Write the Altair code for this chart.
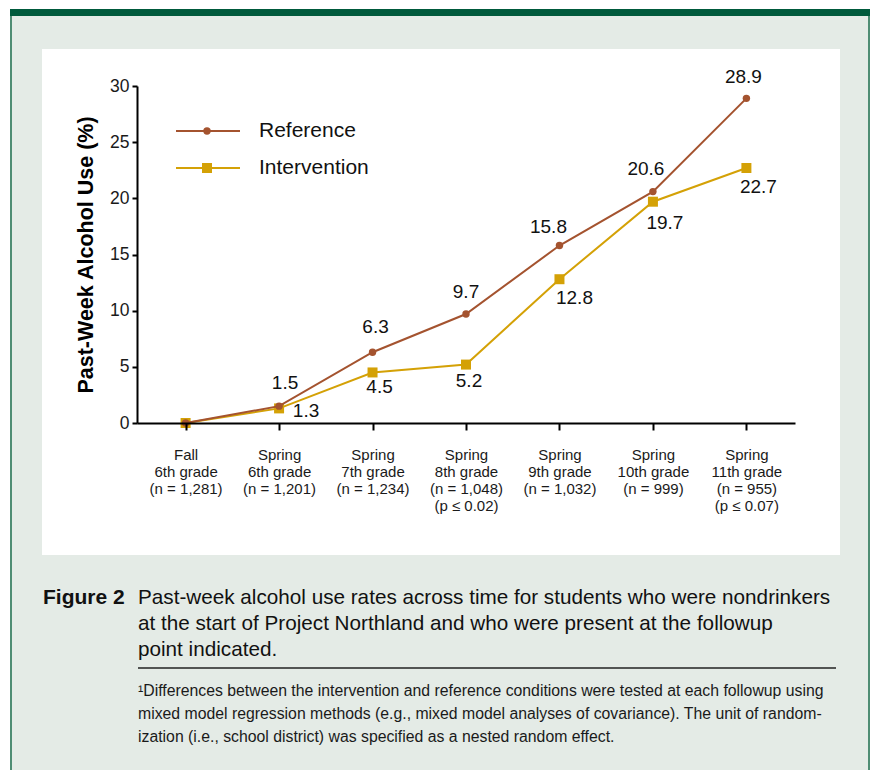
import altair as alt
import pandas as pd

# ---------------- data ----------------
categories = [
    "Fall|6th grade|(n = 1,281)",
    "Spring|6th grade|(n = 1,201)",
    "Spring|7th grade|(n = 1,234)",
    "Spring|8th grade|(n = 1,048)|(p ≤ 0.02)",
    "Spring|9th grade|(n = 1,032)",
    "Spring|10th grade|(n = 999)",
    "Spring|11th grade|(n = 955)|(p ≤ 0.07)",
]
reference = [0.0, 1.5, 6.3, 9.7, 15.8, 20.6, 28.9]
intervention = [0.0, 1.3, 4.5, 5.2, 12.8, 19.7, 22.7]
series_names = ["Reference", "Intervention"]
y_ticks = [0, 5, 10, 15, 20, 25, 30]
y_title = "Past-Week Alcohol Use (%)"

caption_label = "Figure 2"
caption_lines = [
    "Past-week alcohol use rates across time for students who were nondrinkers",
    "at the start of Project Northland and who were present at the followup",
    "point indicated.",
]
footnote_lines = [
    "¹Differences between the intervention and reference conditions were tested at each followup using",
    "mixed model regression methods (e.g., mixed model analyses of covariance). The unit of random-",
    "ization (i.e., school district) was specified as a nested random effect.",
]

# ---------------- styles / layout ----------------
REF_COLOR = "#A4532F"
INT_COLOR = "#D4A106"
PANEL_BG = "#E4EBE6"
DARK_GREEN = "#005A3C"
BORDER_GREEN = "#4F8D74"
FONT = "Liberation Sans"

OX, OY = 137, 86          # plot origin in page pixels
W, H = 658, 337           # plot area


def px(x):
    return x - OX


def py(y):
    return y - OY


# label offsets (dx, dy) for each point, index 0 has no label
ref_offsets = [None, (6, -23), (3, -25), (0, -22), (-11, -19), (-7, -23), (-3, -21)]
int_offsets = [None, (27, 3), (7, 15), (3, 16), (15, 19), (12, 21), (12, 19)]

df_ref = pd.DataFrame({"cat": categories, "value": reference, "series": series_names[0]})
df_int = pd.DataFrame({"cat": categories, "value": intervention, "series": series_names[1]})
one = pd.DataFrame({"k": [0]})

x_enc = alt.X(
    "cat:N",
    sort=categories,
    scale=alt.Scale(type="point", padding=0.52),
    axis=alt.Axis(
        title=None,
        labelExpr="split(datum.label, '|')",
        labelAngle=0,
        labelFont=FONT,
        labelFontSize=15,
        labelLineHeight=17,
        labelColor="#1a1a1a",
        labelPadding=17,
        labelOverlap=False,
        tickSize=7,
        tickWidth=2,
        tickColor="black",
        domainColor="black",
        domainWidth=2,
        grid=False,
        zindex=1,
    ),
)
y_enc = alt.Y(
    "value:Q",
    scale=alt.Scale(domain=[0, 30], nice=False, zero=True),
    axis=alt.Axis(
        values=y_ticks,
        title=y_title,
        titleFont=FONT,
        titleFontSize=21.5,
        titleFontWeight="bold",
        titleColor="black",
        titlePadding=12,
        labelFont=FONT,
        labelFontSize=17.5,
        labelColor="#1a1a1a",
        labelPadding=3,
        tickSize=5,
        tickWidth=2,
        tickColor="black",
        domainColor="black",
        domainWidth=2,
        grid=False,
        zindex=1,
    ),
)


def rect(x1, x2, y1, y2, color):
    return alt.Chart(one).mark_rect(color=color, opacity=1).encode(
        x=alt.value(px(x1)), x2=alt.value(px(x2)),
        y=alt.value(py(y1)), y2=alt.value(py(y2)),
    )


def text_at(x, y, s, size, weight="normal", align="left", baseline="alphabetic", color="#1a1a1a"):
    return alt.Chart(pd.DataFrame({"t": [s]})).mark_text(
        font=FONT, fontSize=size, fontWeight=weight, align=align, baseline=baseline, color=color
    ).encode(x=alt.value(px(x)), y=alt.value(py(y)), text="t:N")


layers = []
# page background pieces
layers.append(rect(10, 870, 9, 770, PANEL_BG))
layers.append(rect(10, 870, 9, 16, DARK_GREEN))
layers.append(rect(10, 12, 16, 770, BORDER_GREEN))
layers.append(rect(868, 870, 16, 770, BORDER_GREEN))
layers.append(rect(42, 840, 49, 555, "white"))

# series
for df, color, shape, size in [(df_int, INT_COLOR, "square", 100), (df_ref, REF_COLOR, "circle", 55)]:
    layers.append(alt.Chart(df).mark_line(color=color, strokeWidth=2).encode(x=x_enc, y=y_enc))
    layers.append(alt.Chart(df).mark_point(color=color, filled=True, opacity=1, shape=shape, size=size).encode(x=x_enc, y=y_enc))

# value labels
for df, offs in [(df_ref, ref_offsets), (df_int, int_offsets)]:
    for i, off in enumerate(offs):
        if off is None:
            continue
        row = df.iloc[[i]]
        layers.append(
            alt.Chart(row).mark_text(
                font=FONT, fontSize=19, color="#111111", align="center", baseline="middle", dx=off[0], dy=off[1]
            ).encode(x=x_enc, y=y_enc, text=alt.Text("value:Q", format=".1f"))
        )

# legend
for (ly, color, shape, size, name) in [(131, REF_COLOR, "circle", 55, series_names[0]), (168, INT_COLOR, "square", 100, series_names[1])]:
    layers.append(alt.Chart(one).mark_rule(color=color, strokeWidth=2).encode(
        x=alt.value(px(176)), x2=alt.value(px(240)), y=alt.value(py(ly))))
    layers.append(alt.Chart(one).mark_point(color=color, filled=True, opacity=1, shape=shape, size=size).encode(
        x=alt.value(px(207)), y=alt.value(py(ly))))
    layers.append(text_at(259, ly, name, 21, baseline="middle", color="#111111"))

# caption
layers.append(text_at(43, 604, caption_label, 21, weight="bold", color="#111111"))
for i, line in enumerate(caption_lines):
    layers.append(text_at(138, 604 + 26 * i, line, 20.7, color="#111111"))
layers.append(alt.Chart(one).mark_rule(color="#222222", strokeWidth=1.5).encode(
    x=alt.value(px(138)), x2=alt.value(px(836)), y=alt.value(py(668))))
for i, line in enumerate(footnote_lines):
    layers.append(text_at(138, 696 + 23 * i, line, 15.8, color="#1a1a1a"))

chart = alt.layer(*layers).properties(
    width=W,
    height=H,
    autosize=alt.AutoSizeParams(type="none"),
    padding={"left": OX, "top": OY, "right": 871 - OX - W, "bottom": 770 - OY - H},
    background="white",
).configure_view(stroke=None).configure(font=FONT)

chart.save("out.html", embed_options={"renderer": "svg", "actions": False})
